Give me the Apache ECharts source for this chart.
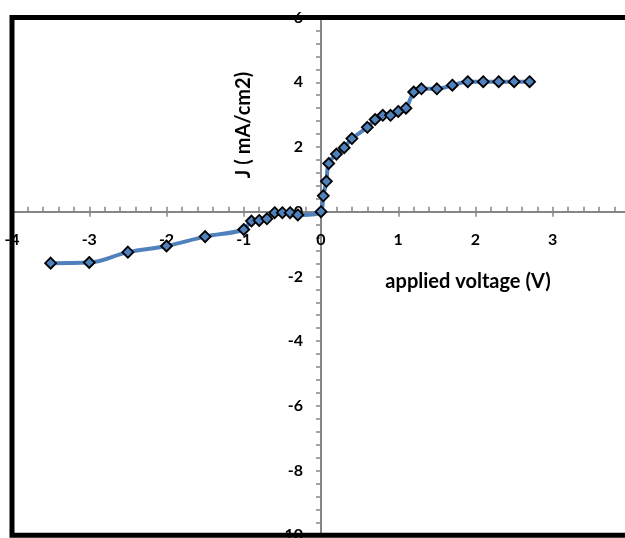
<!DOCTYPE html>
<html>
<head>
<meta charset="utf-8">
<script src="https://cdn.jsdelivr.net/npm/echarts@6/dist/echarts.min.js"></script>
<style>html,body{margin:0;padding:0;background:#fff}#c{width:625px;height:538px}</style>
</head>
<body>
<div id="c"></div>
<script>
var voltage = [-3.5,-3,-2.5,-2,-1.5,-1,-0.9,-0.8,-0.7,-0.6,-0.5,-0.4,-0.3,0,0.03,0.07,0.1,0.2,0.3,0.4,0.6,0.7,0.8,0.9,1.0,1.1,1.2,1.3,1.5,1.7,1.9,2.1,2.3,2.5,2.7];
var current = [-1.59,-1.57,-1.25,-1.06,-0.77,-0.55,-0.29,-0.27,-0.22,-0.03,-0.03,-0.03,-0.1,0,0.49,0.94,1.49,1.78,1.98,2.26,2.61,2.85,2.98,2.98,3.10,3.20,3.70,3.80,3.80,3.91,4.02,4.02,4.02,4.02,4.02];
var xTitle = 'applied voltage (V)';
var yTitle = 'J ( mA/cm2)';
var xRange = [-4, 4];
var yRange = [-10, 6];

var pts = voltage.map(function (v, i) { return [v, current[i]]; });
var G = {left: 12, top: 17.6, width: 618, height: 517.6};
// pixel distance from grid edges to the zero lines (axes cross at 0,0)
var zeroFromLeft = G.width * (0 - xRange[0]) / (xRange[1] - xRange[0]);
var zeroFromBottom = G.height * (0 - yRange[0]) / (yRange[1] - yRange[0]);
var zeroFromTop = G.height - zeroFromBottom;
var gray = '#868686';
var font = 'Lato, "Open Sans", sans-serif';

var chart = echarts.init(document.getElementById('c'), null, {renderer: 'canvas'});
chart.setOption({
  animation: false,
  grid: {left: G.left, top: G.top, width: G.width, height: G.height, containLabel: false, outerBoundsMode: 'none', show: false},
  xAxis: [{
    type: 'value', min: xRange[0], max: xRange[1], interval: 1, position: 'bottom', offset: -zeroFromBottom,
    axisLine: {onZero: false, lineStyle: {color: gray, width: 2}},
    axisTick: {inside: true, length: 5, lineStyle: {color: gray, width: 1.5}},
    minorTick: {show: true, splitNumber: 5, length: 5, lineStyle: {color: gray, width: 1.5}},
    splitLine: {show: false},
    axisLabel: {margin: 20, color: '#000', fontSize: 16, fontWeight: 'bold', fontFamily: font, showMinLabel: true, showMaxLabel: true}
  }, {
    type: 'value', min: xRange[0], max: xRange[1], interval: 1, position: 'top', offset: -zeroFromTop,
    axisLine: {show: false, onZero: false},
    axisTick: {show: true, inside: true, length: 5, lineStyle: {color: gray, width: 1.5}},
    axisLabel: {show: false},
    splitLine: {show: false}
  }],
  yAxis: {
    type: 'value', min: yRange[0], max: yRange[1], interval: 2, position: 'left', offset: -zeroFromLeft,
    axisLine: {onZero: false, lineStyle: {color: gray, width: 2}},
    axisTick: {inside: false, length: 5, lineStyle: {color: gray, width: 1.5}},
    minorTick: {show: true, splitNumber: 5, length: 5, lineStyle: {color: gray, width: 1.5}},
    splitLine: {show: false},
    axisLabel: {margin: 18, color: '#000', fontSize: 16, fontWeight: 'bold', fontFamily: font, showMinLabel: true, showMaxLabel: true}
  },
  series: [{
    type: 'line', data: pts, smooth: 0.4, xAxisIndex: 0,
    lineStyle: {color: '#4F81BD', width: 4},
    symbol: 'diamond', symbolSize: 11,
    itemStyle: {color: '#4F81BD', borderColor: '#000', borderWidth: 1.8},
    z: 5
  }],
  graphic: [
    {type: 'rect', z: 100, silent: true,
     shape: {x: G.left, y: G.top, width: G.width, height: G.height},
     style: {fill: 'none', stroke: '#000', lineWidth: 5}},
    {type: 'text', z: 50, x: 468, y: 282,
     style: {text: xTitle, fill: '#000', font: 'bold 20px ' + font, align: 'center', verticalAlign: 'middle'}},
    {type: 'text', z: 50, x: 244, y: 125, rotation: Math.PI / 2,
     style: {text: yTitle, fill: '#000', font: 'bold 20px ' + font, align: 'center', verticalAlign: 'middle'}}
  ]
});
</script>
</body>
</html>
